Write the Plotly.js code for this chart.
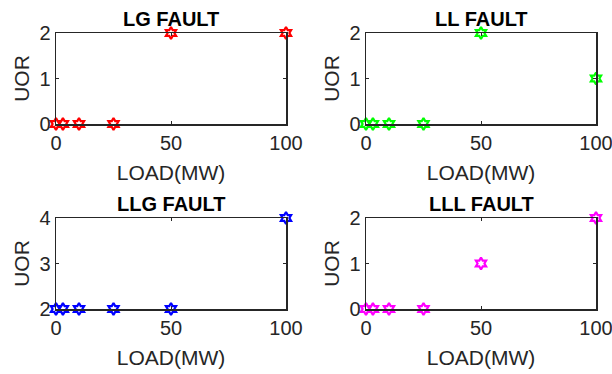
<!DOCTYPE html>
<html>
<head>
<meta charset="utf-8">
<script src="https://cdn.plot.ly/plotly-3.0.1.min.js"></script>
<style>html,body{margin:0;padding:0;background:#fff;}#chart{width:612px;height:374px;}</style>
</head>
<body>
<div id="chart"></div>
<script>
var loadMW = [0, 3, 10, 25, 50, 100];
var uorLG = [0, 0, 0, 0, 2, 2];
var uorLL = [0, 0, 0, 0, 2, 1];
var uorLLG = [2, 2, 2, 2, 2, 4];
var uorLLL = [0, 0, 0, 0, 1, 2];
var panelTitles = ['LG FAULT', 'LL FAULT', 'LLG FAULT', 'LLL FAULT'];
var panelColors = ['#FF0000', '#00FF00', '#0000FF', '#FF00FF'];
var yRanges = [[0, 2], [0, 2], [2, 4], [0, 2]];
var yTicks = [[0, 1, 2], [0, 1, 2], [2, 3, 4], [0, 1, 2]];
var xTicks = [0, 50, 100];
var xLabel = 'LOAD(MW)';
var yLabel = 'UOR';

var series = [uorLG, uorLL, uorLLG, uorLLL];
var W = 612, H = 374;
var xDom = [[56 / W, 286 / W], [366 / W, 596 / W], [56 / W, 286 / W], [366 / W, 596 / W]];
var yDom = [[1 - 124 / H, 1 - 33 / H], [1 - 124 / H, 1 - 33 / H], [1 - 309 / H, 1 - 218 / H], [1 - 309 / H, 1 - 218 / H]];

var axisColor = '#262626';
var fontFam = 'Liberation Sans, Arial, sans-serif';
var traces = [];
var layout = {
  width: W, height: H,
  margin: {l: 0, r: 0, t: 0, b: 0},
  paper_bgcolor: '#fff', plot_bgcolor: '#fff',
  showlegend: false,
  font: {family: fontFam, color: axisColor},
  annotations: []
};

for (var i = 0; i < 4; i++) {
  var s = i === 0 ? '' : String(i + 1);
  traces.push({
    x: loadMW, y: series[i], type: 'scatter', mode: 'markers',
    xaxis: 'x' + s, yaxis: 'y' + s, cliponaxis: false,
    marker: {symbol: 'hexagram-open', size: 9, color: panelColors[i], line: {width: 2.2, color: panelColors[i]}}
  });
  var common = {
    showline: true, linecolor: axisColor, linewidth: 1.5, mirror: 'ticks',
    ticks: 'inside', ticklen: 3, tickwidth: 1, tickcolor: axisColor,
    showgrid: false, zeroline: false, ticklabeloverflow: 'allow',
    tickfont: {size: 20, color: axisColor, family: fontFam}
  };
  layout['xaxis' + s] = Object.assign({}, common, {
    domain: xDom[i], range: [0, 100], tickvals: xTicks, anchor: 'y' + s,
    title: {text: xLabel, font: {size: 21, color: axisColor}, standoff: 13}
  });
  layout['yaxis' + s] = Object.assign({}, common, {
    domain: yDom[i], range: yRanges[i], tickvals: yTicks[i], anchor: 'x' + s,
    title: {text: yLabel, font: {size: 21, color: axisColor}, standoff: 4}
  });
  layout.annotations.push({
    text: '<b>' + panelTitles[i] + '</b>', xref: 'paper', yref: 'paper',
    x: (xDom[i][0] + xDom[i][1]) / 2, xanchor: 'center',
    y: yDom[i][1], yanchor: 'bottom', yshift: 1,
    showarrow: false, font: {size: 20, color: '#000', family: fontFam}
  });
}

Plotly.newPlot('chart', traces, layout, {displayModeBar: false, staticPlot: true});
</script>
</body>
</html>
